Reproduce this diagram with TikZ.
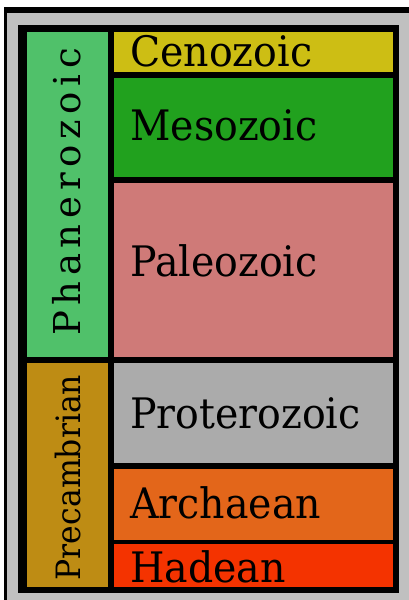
\documentclass[tikz,border=0pt]{standalone}
\usepackage{fontspec}
\newfontfamily\labfont[FakeStretch=0.94]{DejaVu Serif}
\newfontfamily\spacedfont[LetterSpace=15.4]{DejaVu Serif}
\definecolor{cCeno}{RGB}{205,190,20}
\definecolor{cMeso}{RGB}{33,161,30}
\definecolor{cPaleo}{RGB}{207,122,120}
\definecolor{cProt}{RGB}{171,171,171}
\definecolor{cArch}{RGB}{227,102,26}
\definecolor{cHad}{RGB}{244,51,0}
\definecolor{cPhan}{RGB}{80,193,106}
\definecolor{cPrec}{RGB}{190,140,20}
\definecolor{cFrame}{RGB}{192,192,192}
\tikzset{
  eralabel/.style={anchor=base west, inner sep=0pt, font=\labfont\fontsize{42}{50}\selectfont},
  eonspaced/.style={rotate=90, anchor=base, inner sep=0pt, font=\spacedfont\fontsize{37}{44}\selectfont},
  eonserif/.style={rotate=90, anchor=base, inner sep=0pt, font=\labfont\fontsize{33.5}{40}\selectfont},
}
\begin{document}
\begin{tikzpicture}[x=1pt,y=-1pt]
\useasboundingbox (0,0) rectangle (409,600);
\fill[white] (0,0) rectangle (409,600);
% outer frame
\fill[black] (4,7) rectangle (420,610);
\fill[cFrame] (7.3,13.3) rectangle (420,610);
% inner black block
\fill[black] (18,25) rectangle (399,593);
% eon column
\fill[cPhan] (27,31.7) rectangle (108,356.7);
\fill[cPrec] (27,362.7) rectangle (108,586.5);
% era column
\fill[cCeno]  (114,31.7) rectangle (393,71.7);
\fill[cMeso]  (114,78.3) rectangle (393,176.7);
\fill[cPaleo] (114,183) rectangle (393,356.7);
\fill[cProt]  (114,362.7) rectangle (393,462.7);
\fill[cArch]  (114,469.3) rectangle (393,540);
\fill[cHad]   (114,544.3) rectangle (393,587);
% labels
\node[eonspaced] (phan) at (80,192) {Phanerozoic};
\node[eonserif]  (prec) at (80,477.5) {Precambrian};
\node[eralabel] (ceno)  at (130,66) {Cenozoic};
\node[eralabel] (meso)  at (130,140) {Mesozoic};
\node[eralabel] (paleo) at (130,276.7) {Paleozoic};
\node[eralabel] (prot)  at (130,428) {Proterozoic};
\node[eralabel] (arch)  at (130,518) {Archaean};
\node[eralabel] (had)   at (130,582) {Hadean};
\end{tikzpicture}
\end{document}
